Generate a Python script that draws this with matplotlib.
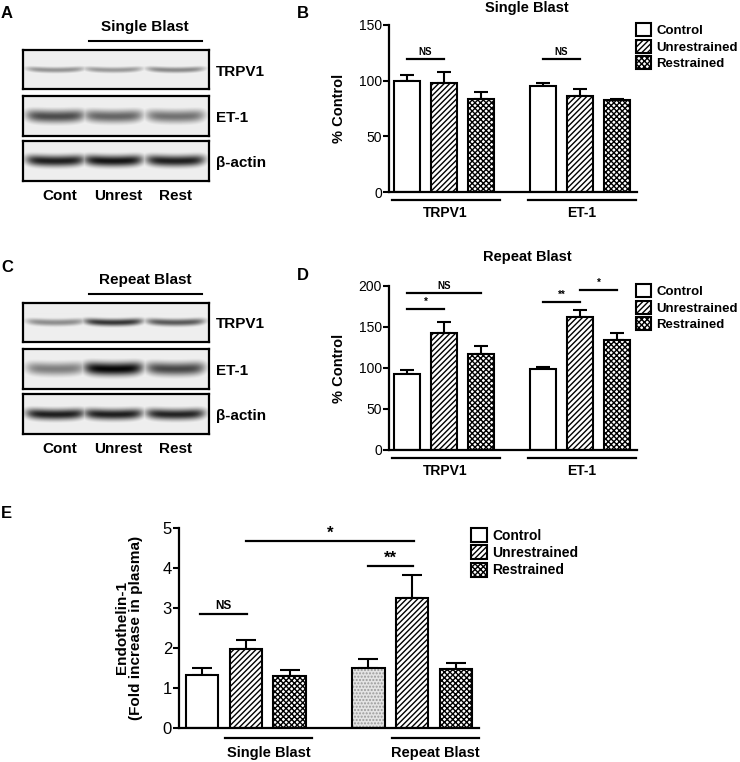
import numpy as np
import matplotlib.pyplot as plt
from matplotlib.patches import Patch

plt.rcParams['font.family'] = ['Liberation Sans', 'DejaVu Sans']
plt.rcParams['hatch.linewidth'] = 1.0

# ---- data ----
lanes = ['Cont', 'Unrest', 'Rest']
blot_rows = ['TRPV1', 'ET-1', 'β-actin']
# band darkness per lane (0 = none, 1 = black)
single_trpv1_band = [0.42, 0.40, 0.46]
single_et1_band = [0.70, 0.60, 0.55]
single_actin_band = [0.88, 0.92, 0.88]
repeat_trpv1_band = [0.45, 0.80, 0.66]
repeat_et1_band = [0.50, 0.98, 0.72]
repeat_actin_band = [0.88, 0.88, 0.86]

groups = ['Control', 'Unrestrained', 'Restrained']
proteins = ['TRPV1', 'ET-1']
single_trpv1 = [100, 98, 83.5]
single_trpv1_err = [5.5, 10, 6.5]
single_et1 = [95, 86, 82.5]
single_et1_err = [3, 6.5, 1.2]
repeat_trpv1 = [93, 143, 117.5]
repeat_trpv1_err = [5, 13, 9]
repeat_et1 = [99, 162, 134]
repeat_et1_err = [2.7, 8.5, 9]

blasts = ['Single Blast', 'Repeat Blast']
plasma_single = [1.33, 1.98, 1.30]
plasma_single_err = [0.18, 0.22, 0.15]
plasma_repeat = [1.50, 3.25, 1.47]
plasma_repeat_err = [0.23, 0.57, 0.16]

W, H = 740, 762
fig = plt.figure(figsize=(W / 100, H / 100), dpi=100)


def px_axes(x0, y0, x1, y1):
    return fig.add_axes([x0 / W, 1 - y1 / H, (x1 - x0) / W, (y1 - y0) / H])


def ftext(x, y, s, **kw):
    kw.setdefault('ha', 'center')
    kw.setdefault('va', 'center')
    fig.text(x / W, 1 - y / H, s, **kw)


# ---- western blots ----
def blot(y0, y1, bands, sigma):
    ax = px_axes(23, y0, 209, y1)
    h, w = y1 - y0, 186
    yy = np.arange(h)[:, None]
    xx = np.arange(w)[None, :]
    img = np.full((h, w), 0.07)
    for cx, dark in zip([32, 90, 152], bands):
        xprof = np.exp(-((xx - cx) / 30.0) ** 6)
        curve = 1.5 * ((xx - cx) / 30.0) ** 2
        yprof = np.exp(-((yy - h / 2 + curve) / sigma) ** 2)
        img = np.maximum(img, dark * xprof * yprof)
    ax.imshow(img, cmap='gray_r', vmin=0, vmax=1, aspect='auto',
              interpolation='bilinear')
    ax.set_xticks([])
    ax.set_yticks([])
    for s in ax.spines.values():
        s.set_linewidth(1.6)
    return ax


def blot_panel(letter, title, ytop, bands_list, sigmas):
    ftext(7, ytop, letter, fontsize=12, fontweight='bold')
    ftext(145, ytop + 13, title, fontsize=11, fontweight='bold')
    fig.add_artist(plt.Line2D([89 / W, 202 / W], [1 - (ytop + 27) / H] * 2,
                              color='k', lw=1.5))
    boxes = [(ytop + 36, ytop + 75), (ytop + 82, ytop + 122), (ytop + 127, ytop + 167)]
    for (b0, b1), bands, sg, name in zip(boxes, bands_list, sigmas, blot_rows):
        blot(b0, b1, bands, sg)
        ftext(216, (b0 + b1) / 2 + 2, name, ha='left', fontsize=11, fontweight='bold')
    for x, lab in zip([60, 118, 176], lanes):
        ftext(x, ytop + 182, lab, fontsize=11, fontweight='bold')


blot_panel('A', 'Single Blast', 14,
           [single_trpv1_band, single_et1_band, single_actin_band], [3.0, 6.5, 5.5])
blot_panel('C', 'Repeat Blast', 267,
           [repeat_trpv1_band, repeat_et1_band, repeat_actin_band], [3.5, 6.5, 5.5])

# ---- bar chart helpers ----
styles = [('white', None, 'black'), ('white', '//////', 'black'), ('white', 'xxxxxx', 'black')]


def bars(ax, xs, vals, errs, width, cap, sty=styles):
    for x, v, e, (fc, hatch, hc) in zip(xs, vals, errs, sty):
        ax.errorbar(x, v, yerr=[[0], [e]], fmt='none', ecolor='black',
                    elinewidth=1.5, capsize=cap, capthick=1.5, zorder=1)
        ax.bar(x, v, width, color=fc, hatch=hatch, edgecolor=hc, linewidth=0, zorder=2)
        ax.bar(x, v, width, fill=False, edgecolor='black', linewidth=1.5, zorder=3)


def sig(ax, x0, x1, y, text, fs, dy):
    ax.plot([x0, x1], [y, y], color='k', lw=1.6, clip_on=False)
    ax.text((x0 + x1) / 2, y + dy, text, ha='center', va='bottom',
            fontsize=fs, fontweight='bold')


def style_axes(ax, ymax, step, fs):
    ax.set_ylim(0, ymax)
    ax.set_yticks(np.arange(0, ymax + 1e-9, step))
    ax.set_xticks([])
    for s in ['top', 'right']:
        ax.spines[s].set_visible(False)
    for s in ['left', 'bottom']:
        ax.spines[s].set_linewidth(1.6)
    ax.tick_params(axis='y', labelsize=fs, width=1.5, length=4, pad=1)


def underline(ax, xa, xb, dy_frac, lab_frac, label, fs):
    tr = ax.get_xaxis_transform()
    ax.plot([xa, xb], [dy_frac, dy_frac], color='k', lw=1.6, transform=tr, clip_on=False)
    ax.text((xa + xb) / 2, lab_frac, label, transform=tr, ha='center', va='center',
            fontsize=fs, fontweight='bold')


def legend(x, y, fs, sty=styles):
    handles = [Patch(facecolor=fc, hatch=h, edgecolor='black', linewidth=1.5)
               for fc, h, hc in sty]
    fig.legend(handles, groups, loc='upper left', bbox_to_anchor=(x / W, 1 - y / H),
               frameon=False, prop={'weight': 'bold', 'size': fs},
               handlelength=1.15, handleheight=1.15, handletextpad=0.4,
               labelspacing=0.2, borderpad=0, borderaxespad=0)


# ---- panels B and D ----
offs = np.array([-1, 0, 1])
centers = [0, 3.68]


def protein_panel(letter, title, ytop, ybot, title_y, ymax, vals, errs, sigs):
    ax = px_axes(389, ytop, 637, ybot)
    for c, v, e in zip(centers, vals, errs):
        bars(ax, c + offs, v, e, 0.7, 5)
    style_axes(ax, ymax, 50, 10)
    ax.set_xlim(-1.49, 5.22)
    hpx = ybot - ytop
    for c, lab in zip(centers, proteins):
        underline(ax, c - 1.42, c + 1.5, -8 / hpx, -21 / hpx, lab, 10)
    for x0, x1, y, t in sigs:
        sig(ax, x0, x1, y, t, 7, ymax * 0.012)
    ftext(303, ytop - 11, letter, fontsize=12, fontweight='bold')
    ftext(527, title_y, title, fontsize=10.5, fontweight='bold')
    ftext(339, (ytop + ybot) / 2, '% Control', rotation=90, fontsize=10.5,
          fontweight='bold')
    legend(636, ytop - 2, 9.5)
    return ax


protein_panel('B', 'Single Blast', 25, 192, 8, 150,
              [single_trpv1, single_et1], [single_trpv1_err, single_et1_err],
              [(-1, 0, 119.5, 'NS'), (2.68, 3.68, 119.5, 'NS')])
protein_panel('D', 'Repeat Blast', 286, 450, 257, 200,
              [repeat_trpv1, repeat_et1], [repeat_trpv1_err, repeat_et1_err],
              [(-1, 0, 172, '*'), (-1, 1, 191, 'NS'),
               (2.68, 3.68, 181, '**'), (3.68, 4.68, 195, '*')])

# ---- panel E ----
axE = px_axes(179, 528, 479, 728)
e_centers = [0, 3.8]
repeat_styles = [('#e4e4e4', '.....', '#9a9a9a')] + styles[1:]
bars(axE, e_centers[0] + offs, plasma_single, plasma_single_err, 0.74, 7)
bars(axE, e_centers[1] + offs, plasma_repeat, plasma_repeat_err, 0.74, 7, repeat_styles)
style_axes(axE, 5, 1, 12)
axE.set_xlim(-1.53, 5.33)
for c, lab in zip(e_centers, blasts):
    underline(axE, c - 0.47, c + 1.52, -10 / 200, -25 / 200, lab, 10.5)
sig(axE, -1.05, 0.03, 2.85, 'NS', 8.5, 0.05)
sig(axE, 2.79, 3.82, 4.05, '**', 12, 0.0)
sig(axE, 0.0, 3.85, 4.67, '*', 12, 0.0)
ftext(6, 513, 'E', fontsize=12, fontweight='bold')
ftext(129, 628, 'Endothelin-1\n(Fold increase in plasma)', rotation=90,
      fontsize=11, fontweight='bold', multialignment='center', linespacing=1.0)
legend(471, 528, 10)

fig.savefig('out.png', dpi=100)
